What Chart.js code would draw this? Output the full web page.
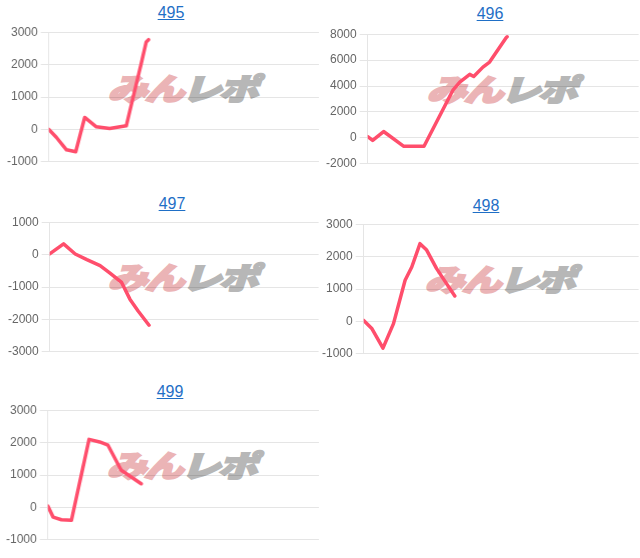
<!DOCTYPE html>
<html>
<head>
<meta charset="utf-8">
<script src="https://cdn.jsdelivr.net/npm/chart.js@4.4.0/dist/chart.umd.min.js"></script>
<style>
  html, body { margin: 0; padding: 0; background: #fff; }
  body { width: 640px; height: 558px; position: relative; overflow: hidden; font-family: "Liberation Sans", Arial, sans-serif; }
  .title { position: absolute; transform: translateX(-50%); font-size: 16px; line-height: 18px; color: #1f6fc6; text-decoration: underline; white-space: nowrap; }
  .box { position: absolute; height: 150px; z-index: 1; }
  .wm { position: absolute; z-index: 0; font-family: "Noto Sans CJK JP", sans-serif; font-weight: 900; font-size: 30px; line-height: 28px; white-space: nowrap; transform: translateX(-50%) scaleX(1.32) skewX(-14deg); letter-spacing: -2px; -webkit-text-stroke: 2px currentColor; }
  .wm .p { color: #ebb4b6; }
  .wm .g { color: #b7b7b7; }
</style>
</head>
<body>
<script>
// machine numbers shown as chart titles
const names = ['495', '496', '497', '498', '499'];

// games played (x) and coin difference (y) for each machine
const games495 = [0, 284, 652, 996, 1328, 1759, 2251, 2866, 3419, 3604, 3690];
const diff495 = [0, -250, -630, -690, 370, 80, 30, 110, 2030, 2700, 2770];

const games496 = [0, 183, 587, 1320, 2079, 3154, 3399, 3766, 3913, 4254, 4499, 5109, 5145];
const diff496 = [100, -200, 490, -640, -650, 3710, 4300, 4900, 4740, 5460, 5850, 7730, 7800];

const games497 = [0, 517, 949, 1382, 1874, 2242, 2674, 2982, 3288, 3694];
const diff497 = [20, 330, 20, -155, -340, -570, -860, -1375, -1740, -2180];

const games498 = [0, 303, 701, 1084, 1506, 1749, 2048, 2290, 2652, 3013, 3314];
const diff498 = [30, -230, -825, -70, 1270, 1680, 2400, 2200, 1630, 1165, 785];

const games499 = [0, 196, 502, 870, 1520, 1912, 2218, 2708, 3076, 3444];
const diff499 = [40, -300, -380, -400, 2100, 2020, 1920, 1145, 940, 730];

// y tick labels
const ticks495 = [-1000, 0, 1000, 2000, 3000];
const ticks496 = [-2000, 0, 2000, 4000, 6000, 8000];
const ticks497 = [-3000, -2000, -1000, 0, 1000];
const ticks498 = [-1000, 0, 1000, 2000, 3000];
const ticks499 = [-1000, 0, 1000, 2000, 3000];

const gamesMax = 10000;

const allGames = [games495, games496, games497, games498, games499];
const allDiffs = [diff495, diff496, diff497, diff498, diff499];
const allTicks = [ticks495, ticks496, ticks497, ticks498, ticks499];

// where each chart sits on the page
const boxes = [
    { left: 4.3, top: 22.3, titleX: 171, titleTop: 4 },
    { left: 322.6, top: 23.8, titleX: 490, titleTop: 5 },
    { left: 4.6, top: 211.5, titleX: 172, titleTop: 195 },
    { left: 318.6, top: 213.8, titleX: 486, titleTop: 197 },
    { left: 3.3, top: 399.8, titleX: 170, titleTop: 383 },
];
const colRight = [320, 640, 320, 640, 320];

const lineColor = 'rgb(255, 78, 108)';

names.forEach((name, i) => {
    const b = boxes[i];

    const title = document.createElement('div');
    title.className = 'title';
    title.textContent = name;
    title.style.left = b.titleX + 'px';
    title.style.top = b.titleTop + 'px';
    document.body.appendChild(title);

    const wm = document.createElement('div');
    wm.className = 'wm';
    wm.innerHTML = '<span class="p">みん</span><span class="g">レポ</span>';
    document.body.appendChild(wm);

    const box = document.createElement('div');
    box.className = 'box';
    box.style.left = b.left + 'px';
    box.style.top = b.top + 'px';
    box.style.width = (colRight[i] - b.left) + 'px';
    const canvas = document.createElement('canvas');
    box.appendChild(canvas);
    document.body.appendChild(box);

    const ticks = allTicks[i];
    const points = allGames[i].map((g, k) => ({ x: g, y: allDiffs[i][k] }));

    new Chart(canvas.getContext('2d'), {
        type: 'line',
        data: {
            datasets: [{
                data: points,
                borderColor: lineColor,
                backgroundColor: lineColor,
                borderWidth: 3.5,
                pointRadius: 0,
                tension: 0,
                fill: false,
                borderCapStyle: 'round',
                borderJoinStyle: 'round',
            }],
        },
        options: {
            responsive: true,
            maintainAspectRatio: false,
            animation: false,
            events: [],
            layout: { padding: 0 },
            plugins: { legend: { display: false }, tooltip: { enabled: false } },
            scales: {
                x: { type: 'linear', min: 0, max: gamesMax, display: false },
                y: {
                    min: ticks[0],
                    max: ticks[ticks.length - 1],
                    ticks: {
                        stepSize: ticks[1] - ticks[0],
                        color: '#666',
                        font: { size: 12, family: '"Liberation Sans", Arial, sans-serif' },
                        callback: (v) => String(v),
                    },
                },
            },
        },
        plugins: [{
            id: 'watermark',
            afterLayout(chart) {
                const a = chart.chartArea;
                wm.style.left = (b.left + (a.left + a.right) / 2 + 2) + 'px';
                wm.style.top = (b.top + a.top + 40) + 'px';
            },
        }],
    });
});
</script>
</body>
</html>
